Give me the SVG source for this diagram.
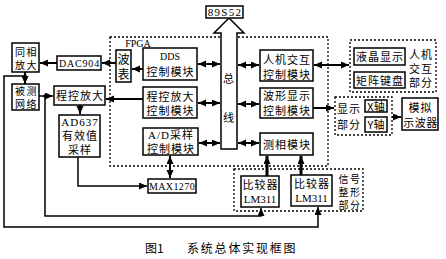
<svg xmlns="http://www.w3.org/2000/svg" width="446" height="259" viewBox="0 0 446 259">
<style>
.box{fill:#fff;stroke:#000;stroke-width:1.5}
.dash{fill:none;stroke:#000;stroke-width:1.3;stroke-dasharray:2 2}
.t{font-family:"Noto Sans CJK SC",sans-serif;font-size:11px;text-anchor:middle;fill:#000;letter-spacing:1px}
.sm{font-size:10px;letter-spacing:1.5px}
.s{font-family:"Liberation Serif","Noto Sans CJK SC",serif;font-size:11px;text-anchor:middle;fill:#000}
.ln{fill:none;stroke:#000;stroke-width:2}
.lt{fill:none;stroke:#000;stroke-width:1.5}
</style>
<defs>
<marker id="ah" markerUnits="userSpaceOnUse" markerWidth="9" markerHeight="8" refX="8" refY="3.5" orient="auto-start-reverse">
<path d="M0,0 L8,3.5 L0,7 z" fill="#000"/>
</marker>
</defs>
<rect width="446" height="259" fill="#fff"/>

<g id="fpga">
<rect class="dash" x="110" y="37" width="218" height="129"/>
<text class="s" x="138" y="47" style="font-size:10px">FPGA</text>
</g>
<g id="renji-part">
<rect class="dash" x="350" y="40" width="86" height="52"/>
<text class="t"><tspan x="421" y="59">人机</tspan><tspan x="421" y="73">交互</tspan><tspan x="421" y="87">部分</tspan></text>
</g>
<g id="xianshi-part">
<rect class="dash" x="335" y="97" width="57" height="38"/>
<text class="t"><tspan x="349" y="113">显示</tspan><tspan x="349" y="129">部分</tspan></text>
</g>
<g id="zhengxing-part">
<rect class="dash" x="234" y="169" width="129" height="42"/>
<text class="t sm"><tspan x="350" y="183">信号</tspan><tspan x="350" y="196">整形</tspan><tspan x="350" y="209">部分</tspan></text>
</g>

<g id="connectors">
<line class="ln" x1="57" y1="63" x2="40" y2="63" marker-end="url(#ah)"/>
<line class="ln" x1="116" y1="63" x2="102" y2="63" marker-end="url(#ah)"/>
<line class="ln" x1="143" y1="69" x2="132" y2="69" marker-end="url(#ah)"/>
<line class="ln" x1="143" y1="99" x2="106" y2="99" marker-end="url(#ah)"/>
<line class="ln" x1="198" y1="64" x2="220" y2="64" marker-start="url(#ah)" marker-end="url(#ah)"/>
<line class="ln" x1="198" y1="103" x2="220" y2="103" marker-start="url(#ah)" marker-end="url(#ah)"/>
<line class="ln" x1="199" y1="143" x2="220" y2="143" marker-start="url(#ah)" marker-end="url(#ah)"/>
<line class="ln" x1="238" y1="65" x2="259" y2="65" marker-start="url(#ah)" marker-end="url(#ah)"/>
<line class="ln" x1="238" y1="104" x2="259" y2="104" marker-start="url(#ah)" marker-end="url(#ah)"/>
<line class="ln" x1="238" y1="143" x2="259" y2="143" marker-start="url(#ah)" marker-end="url(#ah)"/>
<line class="ln" x1="314" y1="65" x2="349" y2="65" marker-start="url(#ah)" marker-end="url(#ah)"/>
<line class="ln" x1="313" y1="108" x2="334" y2="108" marker-end="url(#ah)"/>
<line class="ln" x1="392" y1="117" x2="401" y2="117" marker-end="url(#ah)"/>
<line class="ln" x1="170" y1="156" x2="170" y2="178" marker-start="url(#ah)" marker-end="url(#ah)"/>
<line class="ln" x1="80" y1="105" x2="80" y2="114" marker-end="url(#ah)"/>
<path class="lt" d="M78,157 V186 H147" marker-end="url(#ah)"/>
<line class="ln" x1="25" y1="72" x2="25" y2="84" marker-end="url(#ah)"/>
<line class="lt" x1="39" y1="96" x2="53" y2="96" marker-end="url(#ah)"/>
<path class="lt" d="M45,96 V216 H261 V208" marker-end="url(#ah)"/>
<path class="lt" d="M25,76 H4 V227 H318 V207" marker-end="url(#ah)"/>
<line class="ln" x1="267" y1="176" x2="267" y2="156" marker-end="url(#ah)" style="stroke-width:3"/>
<line class="ln" x1="301" y1="175" x2="301" y2="156" marker-end="url(#ah)" style="stroke-width:3"/>
<circle cx="45" cy="96" r="1.8" fill="#000"/>
<circle cx="25" cy="76" r="1.8" fill="#000"/>
</g>

<g id="bus">
<polygon points="221,149 221,33 214,33 229,18 244,33 237,33 237,149" fill="#fff" stroke="#000" stroke-width="1.5"/>
<text class="t"><tspan x="229" y="83">总</tspan><tspan x="229" y="122">线</tspan></text>
</g>

<g id="tongxiang"><rect class="box" x="12" y="43" width="27" height="29"/><text class="t sm"><tspan x="26.5" y="56">同相</tspan><tspan x="26.5" y="69">放大</tspan></text></g>
<g id="dac904"><rect class="box" x="57" y="56" width="44" height="14"/><text class="s" x="79.5" y="67" style="font-size:10px;letter-spacing:0.8px">DAC904</text></g>
<g id="bobiao"><rect class="box" x="116" y="50" width="15" height="32"/><text class="t" style="font-size:12px;letter-spacing:0"><tspan x="123.5" y="64">波</tspan><tspan x="123.5" y="79">表</tspan></text></g>
<g id="beice"><rect class="box" x="12" y="84" width="27" height="26"/><text class="t sm"><tspan x="26.5" y="95">被测</tspan><tspan x="26.5" y="108">网络</tspan></text></g>
<g id="chengkong"><rect class="box" x="54" y="86" width="51" height="19"/><text class="t" x="80" y="100">程控放大</text></g>
<g id="ad637"><rect class="box" x="59" y="115" width="41" height="42"/><text class="t"><tspan x="80" y="126" style="font-family:'Liberation Serif',serif">AD637</tspan><tspan x="80" y="140">有效值</tspan><tspan x="80" y="154">采样</tspan></text></g>
<g id="dds"><rect class="box" x="143" y="48" width="54" height="32"/><text class="t"><tspan x="170" y="60" style="font-family:'Liberation Serif',serif;font-size:10px;letter-spacing:0">DDS</tspan><tspan x="170.5" y="76">控制模块</tspan></text></g>
<g id="ckctrl"><rect class="box" x="143" y="87" width="54" height="31"/><text class="t"><tspan x="170.5" y="101">程控放大</tspan><tspan x="170.5" y="115">控制模块</tspan></text></g>
<g id="adctrl"><rect class="box" x="143" y="128" width="55" height="27"/><text class="t"><tspan x="171" y="139" style="font-family:'Liberation Serif','Noto Sans CJK SC',serif">A/D采样</tspan><tspan x="171" y="153">控制模块</tspan></text></g>
<g id="max1270"><rect class="box" x="148" y="179" width="48" height="14"/><text class="s" x="172" y="190" style="font-size:10px;letter-spacing:0.4px">MAX1270</text></g>
<g id="mcu"><rect class="box" x="206" y="6" width="37" height="12"/><text class="s" x="225" y="16" style="letter-spacing:1.3px">89S52</text></g>
<g id="renji"><rect class="box" x="260" y="50" width="53" height="31"/><text class="t"><tspan x="287" y="64">人机交互</tspan><tspan x="287" y="79">控制模块</tspan></text></g>
<g id="boxing"><rect class="box" x="260" y="88" width="53" height="30"/><text class="t"><tspan x="287" y="100">波形显示</tspan><tspan x="287" y="115">控制模块</tspan></text></g>
<g id="cexiang"><rect class="box" x="260" y="133" width="53" height="22"/><text class="t" x="287" y="149">测相模块</text></g>
<g id="lm311a"><rect class="box" x="241" y="176" width="38" height="31"/><text class="t"><tspan x="260.5" y="189">比较器</tspan><tspan x="260" y="203" style="font-family:'Liberation Serif',serif;letter-spacing:0">LM311</tspan></text></g>
<g id="lm311b"><rect class="box" x="291" y="175" width="41" height="31"/><text class="t"><tspan x="312" y="188">比较器</tspan><tspan x="311.5" y="202" style="font-family:'Liberation Serif',serif;letter-spacing:0">LM311</tspan></text></g>
<g id="lcd"><rect class="box" x="354" y="48" width="51" height="17"/><text class="t" x="380" y="61">液晶显示</text></g>
<g id="keypad"><rect class="box" x="354" y="72" width="51" height="16"/><text class="t" x="380" y="85">矩阵键盘</text></g>
<g id="xaxis"><rect class="box" x="365" y="100" width="22" height="12"/><text class="t" x="376" y="110.5" style="letter-spacing:0">X轴</text></g>
<g id="yaxis"><rect class="box" x="365" y="117" width="22" height="15"/><text class="t" x="376" y="129" style="letter-spacing:0">Y轴</text></g>
<g id="osc"><rect class="box" x="402" y="98" width="36" height="32"/><text class="t"><tspan x="420.5" y="112">模拟</tspan><tspan x="420.5" y="127" style="letter-spacing:0.5px">示波器</tspan></text></g>

<text style="font-family:'Noto Sans CJK SC',sans-serif;font-size:12px;fill:#000" y="253"><tspan x="145">图1</tspan><tspan x="187" style="letter-spacing:1.8px">系统总体实现框图</tspan></text>
</svg>
